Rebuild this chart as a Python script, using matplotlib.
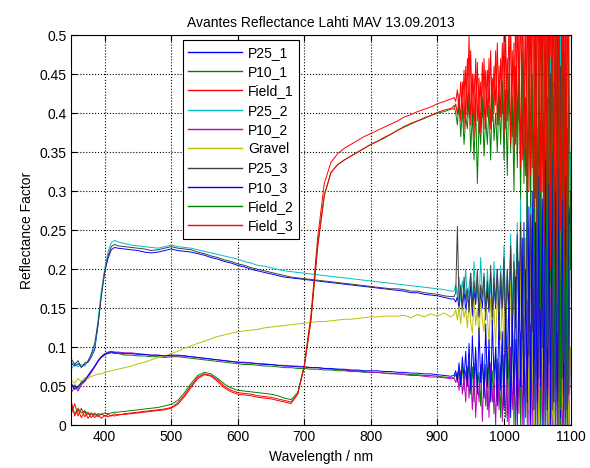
import numpy as np
import matplotlib
matplotlib.use("Agg")
import matplotlib.pyplot as plt

plt.rcParams["font.family"] = ["Liberation Sans", "DejaVu Sans"]

# sampling grid (nm): 5 nm at the start, 10 nm in the middle, 2.5 nm in the noisy tail
wl = np.concatenate([np.arange(350, 421, 5), np.arange(430, 921, 10), np.arange(925, 1100.1, 2.5)])

p25_1 = ([0.080, 0.076, 0.079, 0.075, 0.078, 0.081, 0.088, 0.097, 0.128, 0.168, 0.197, 0.214, 0.225, 0.228, 0.227]
         + [0.226, 0.225, 0.224, 0.222, 0.221, 0.222, 0.224, 0.226, 0.224, 0.223,
            0.222, 0.220, 0.218, 0.215, 0.213, 0.210, 0.208, 0.205, 0.203, 0.200,
            0.198, 0.196, 0.194, 0.192, 0.190, 0.189, 0.188, 0.187, 0.186, 0.185,
            0.184, 0.183, 0.182, 0.181, 0.180, 0.179, 0.178, 0.177, 0.176, 0.175,
            0.174, 0.173, 0.172, 0.170, 0.170, 0.168, 0.167, 0.166, 0.164, 0.162]
         + [0.162, 0.158, 0.165, 0.150, 0.172, 0.148, 0.175, 0.145, 0.168, 0.152,
            0.180, 0.140, 0.172, 0.155, 0.185, 0.138, 0.170, 0.150, 0.190, 0.135,
            0.175, 0.145, 0.195, 0.130, 0.180, 0.150, 0.200, 0.128, 0.185, 0.140,
            0.210, 0.120, 0.190, 0.135, 0.225, 0.110, 0.200, 0.125, 0.240, 0.100,
            0.215, 0.090, 0.260, 0.110, 0.280, 0.070, 0.250, 0.040, 0.300, 0.060,
            0.340, 0.020, 0.280, 0.000, 0.380, 0.050, 0.420, 0.000, 0.360, 0.010,
            0.440, 0.000, 0.400, 0.030, 0.470, 0.000, 0.450, 0.020, 0.380, 0.000,
            0.100])

p10_1 = ([0.048, 0.052, 0.047, 0.054, 0.057, 0.063, 0.069, 0.075, 0.082, 0.087, 0.090, 0.092, 0.093, 0.092, 0.092]
         + [0.090, 0.090, 0.089, 0.089, 0.088, 0.088, 0.087, 0.088, 0.088, 0.087,
            0.086, 0.085, 0.084, 0.083, 0.082, 0.081, 0.080, 0.079, 0.078, 0.078,
            0.077, 0.076, 0.076, 0.075, 0.074, 0.074, 0.073, 0.073, 0.072, 0.072,
            0.071, 0.071, 0.070, 0.070, 0.069, 0.069, 0.068, 0.068, 0.068, 0.067,
            0.067, 0.066, 0.066, 0.065, 0.065, 0.064, 0.064, 0.063, 0.062, 0.061]
         + [0.061, 0.066, 0.055, 0.072, 0.050, 0.078, 0.045, 0.070, 0.052, 0.082,
            0.040, 0.075, 0.030, 0.085, 0.048, 0.068, 0.025, 0.090, 0.040, 0.078,
            0.020, 0.095, 0.035, 0.070, 0.015, 0.100, 0.030, 0.080, 0.010, 0.105,
            0.025, 0.120, 0.005, 0.095, 0.030, 0.140, 0.000, 0.110, 0.020, 0.160,
            0.000, 0.180, 0.040, 0.150, 0.000, 0.220, 0.010, 0.190, 0.000, 0.250,
            0.030, 0.210, 0.000, 0.280, 0.020, 0.240, 0.000, 0.300, 0.010, 0.260,
            0.000, 0.280, 0.030, 0.230, 0.000, 0.270, 0.020, 0.250, 0.000, 0.220,
            0.200])

field_1 = ([0.015, 0.028, 0.012, 0.022, 0.011, 0.017, 0.010, 0.016, 0.011, 0.015, 0.012, 0.014, 0.012, 0.015, 0.013]
           + [0.015, 0.016, 0.017, 0.018, 0.019, 0.020, 0.021, 0.023, 0.029, 0.039,
              0.051, 0.062, 0.066, 0.064, 0.058, 0.050, 0.045, 0.042, 0.041, 0.040,
              0.038, 0.037, 0.036, 0.034, 0.032, 0.030, 0.040, 0.078, 0.142, 0.240,
              0.310, 0.337, 0.348, 0.355, 0.360, 0.365, 0.370, 0.374, 0.378, 0.382,
              0.386, 0.390, 0.395, 0.398, 0.402, 0.405, 0.408, 0.412, 0.415, 0.418]
           + [0.420, 0.415, 0.430, 0.400, 0.440, 0.395, 0.455, 0.390, 0.470, 0.400,
              0.480, 0.385, 0.450, 0.400, 0.465, 0.375, 0.440, 0.395, 0.470, 0.380,
              0.455, 0.400, 0.480, 0.390, 0.460, 0.410, 0.490, 0.385, 0.470, 0.400,
              0.500, 0.380, 0.470, 0.400, 0.520, 0.370, 0.490, 0.360, 0.530, 0.390,
              0.550, 0.340, 0.500, 0.320, 0.560, 0.300, 0.540, 0.330, 0.580, 0.280,
              0.600, 0.260, 0.550, 0.300, 0.600, 0.240, 0.580, 0.220, 0.600, 0.260,
              0.600, 0.200, 0.580, 0.180, 0.600, 0.230, 0.600, 0.170, 0.600, 0.200,
              0.300])

p25_2 = ([0.072, 0.080, 0.075, 0.078, 0.076, 0.083, 0.090, 0.100, 0.135, 0.172, 0.200, 0.222, 0.234, 0.237, 0.235]
         + [0.233, 0.231, 0.230, 0.229, 0.228, 0.227, 0.229, 0.231, 0.229, 0.228,
            0.227, 0.225, 0.223, 0.221, 0.219, 0.217, 0.215, 0.213, 0.210, 0.208,
            0.205, 0.204, 0.202, 0.200, 0.198, 0.197, 0.196, 0.195, 0.194, 0.193,
            0.192, 0.191, 0.190, 0.189, 0.188, 0.187, 0.186, 0.185, 0.184, 0.183,
            0.182, 0.181, 0.180, 0.179, 0.178, 0.177, 0.176, 0.175, 0.174, 0.172]
         + [0.172, 0.180, 0.165, 0.190, 0.160, 0.185, 0.168, 0.200, 0.158, 0.178,
            0.195, 0.155, 0.210, 0.162, 0.188, 0.150, 0.215, 0.165, 0.180, 0.148,
            0.200, 0.160, 0.185, 0.142, 0.210, 0.155, 0.190, 0.145, 0.205, 0.150,
            0.230, 0.140, 0.200, 0.130, 0.245, 0.150, 0.220, 0.125, 0.260, 0.135,
            0.290, 0.110, 0.250, 0.090, 0.330, 0.100, 0.300, 0.060, 0.360, 0.080,
            0.380, 0.030, 0.330, 0.050, 0.420, 0.010, 0.400, 0.040, 0.470, 0.000,
            0.430, 0.020, 0.480, 0.000, 0.500, 0.040, 0.440, 0.000, 0.400, 0.050,
            0.350])

p10_2 = ([0.042, 0.050, 0.044, 0.052, 0.056, 0.062, 0.068, 0.075, 0.082, 0.088, 0.092, 0.094, 0.095, 0.094, 0.094]
         + [0.093, 0.093, 0.092, 0.091, 0.090, 0.090, 0.089, 0.089, 0.089, 0.089,
            0.088, 0.087, 0.086, 0.085, 0.084, 0.083, 0.082, 0.081, 0.081, 0.080,
            0.079, 0.079, 0.078, 0.077, 0.077, 0.076, 0.076, 0.075, 0.074, 0.074,
            0.073, 0.072, 0.072, 0.071, 0.070, 0.070, 0.069, 0.068, 0.068, 0.067,
            0.066, 0.066, 0.065, 0.064, 0.064, 0.063, 0.062, 0.062, 0.061, 0.060]
         + [0.060, 0.055, 0.068, 0.045, 0.070, 0.040, 0.062, 0.030, 0.075, 0.035,
            0.065, 0.020, 0.072, 0.010, 0.060, 0.030, 0.078, 0.005, 0.068, 0.025,
            0.070, 0.010, 0.080, 0.030, 0.060, 0.000, 0.085, 0.020, 0.075, 0.005,
            0.090, 0.010, 0.070, 0.000, 0.100, 0.020, 0.085, 0.000, 0.110, 0.015,
            0.120, 0.000, 0.140, 0.010, 0.160, 0.000, 0.130, 0.000, 0.180, 0.000,
            0.200, 0.000, 0.170, 0.010, 0.220, 0.000, 0.190, 0.000, 0.230, 0.000,
            0.200, 0.000, 0.180, 0.000, 0.210, 0.000, 0.160, 0.000, 0.150, 0.000,
            0.000])

gravel = ([0.058, 0.054, 0.060, 0.056, 0.061, 0.060, 0.063, 0.064, 0.066, 0.066, 0.068, 0.069, 0.070, 0.071, 0.072]
          + [0.074, 0.076, 0.079, 0.081, 0.084, 0.087, 0.089, 0.092, 0.095, 0.099,
             0.102, 0.105, 0.108, 0.111, 0.114, 0.116, 0.118, 0.120, 0.121, 0.122,
             0.123, 0.125, 0.126, 0.127, 0.128, 0.129, 0.130, 0.131, 0.132, 0.133,
             0.133, 0.134, 0.135, 0.136, 0.136, 0.137, 0.138, 0.139, 0.139, 0.140,
             0.140, 0.140, 0.141, 0.138, 0.142, 0.139, 0.143, 0.140, 0.144, 0.139]
          + [0.142, 0.148, 0.135, 0.152, 0.130, 0.156, 0.138, 0.150, 0.125, 0.158,
             0.132, 0.118, 0.160, 0.128, 0.150, 0.112, 0.162, 0.135, 0.120, 0.155,
             0.140, 0.105, 0.165, 0.125, 0.150, 0.100, 0.170, 0.130, 0.110, 0.160,
             0.095, 0.175, 0.120, 0.085, 0.185, 0.140, 0.075, 0.200, 0.110, 0.060,
             0.215, 0.090, 0.040, 0.240, 0.120, 0.020, 0.270, 0.080, 0.000, 0.290,
             0.050, 0.000, 0.310, 0.100, 0.000, 0.330, 0.060, 0.000, 0.300, 0.020,
             0.000, 0.280, 0.080, 0.000, 0.300, 0.040, 0.000, 0.250, 0.060, 0.000,
             0.100])

p25_3 = ([0.085, 0.078, 0.083, 0.074, 0.080, 0.082, 0.092, 0.105, 0.130, 0.165, 0.197, 0.217, 0.229, 0.232, 0.230]
         + [0.229, 0.228, 0.227, 0.226, 0.224, 0.225, 0.227, 0.229, 0.227, 0.226,
            0.225, 0.222, 0.220, 0.217, 0.215, 0.212, 0.210, 0.207, 0.205, 0.202,
            0.200, 0.198, 0.196, 0.194, 0.192, 0.190, 0.189, 0.188, 0.187, 0.186,
            0.185, 0.184, 0.183, 0.182, 0.181, 0.180, 0.179, 0.178, 0.177, 0.176,
            0.175, 0.175, 0.174, 0.172, 0.172, 0.170, 0.169, 0.168, 0.166, 0.165]
         + [0.165, 0.170, 0.255, 0.155, 0.180, 0.150, 0.190, 0.160, 0.175, 0.145,
            0.195, 0.150, 0.185, 0.160, 0.200, 0.140, 0.180, 0.165, 0.195, 0.145,
            0.185, 0.150, 0.205, 0.140, 0.190, 0.155, 0.200, 0.135, 0.195, 0.150,
            0.215, 0.130, 0.200, 0.145, 0.230, 0.125, 0.210, 0.140, 0.245, 0.120,
            0.260, 0.110, 0.240, 0.130, 0.300, 0.090, 0.270, 0.120, 0.340, 0.080,
            0.350, 0.060, 0.300, 0.100, 0.400, 0.030, 0.360, 0.080, 0.450, 0.020,
            0.420, 0.050, 0.500, 0.000, 0.460, 0.060, 0.480, 0.010, 0.380, 0.040,
            0.300])

p10_3 = ([0.054, 0.046, 0.050, 0.055, 0.058, 0.064, 0.070, 0.076, 0.083, 0.088, 0.091, 0.093, 0.094, 0.093, 0.093]
         + [0.092, 0.092, 0.091, 0.091, 0.090, 0.090, 0.089, 0.090, 0.090, 0.089,
            0.088, 0.087, 0.086, 0.085, 0.084, 0.083, 0.082, 0.081, 0.080, 0.080,
            0.079, 0.078, 0.078, 0.077, 0.076, 0.076, 0.075, 0.075, 0.074, 0.074,
            0.073, 0.073, 0.072, 0.072, 0.071, 0.071, 0.070, 0.070, 0.070, 0.069,
            0.069, 0.068, 0.068, 0.067, 0.067, 0.066, 0.066, 0.065, 0.064, 0.063]
         + [0.064, 0.070, 0.058, 0.080, 0.052, 0.088, 0.060, 0.095, 0.050, 0.105,
            0.045, 0.115, 0.060, 0.100, 0.040, 0.125, 0.055, 0.092, 0.035, 0.130,
            0.050, 0.110, 0.030, 0.135, 0.060, 0.100, 0.025, 0.145, 0.045, 0.120,
            0.020, 0.150, 0.060, 0.170, 0.010, 0.140, 0.040, 0.190, 0.000, 0.210,
            0.050, 0.240, 0.000, 0.200, 0.030, 0.280, 0.000, 0.300, 0.020, 0.260,
            0.000, 0.320, 0.050, 0.290, 0.000, 0.340, 0.020, 0.310, 0.000, 0.350,
            0.030, 0.300, 0.000, 0.330, 0.010, 0.290, 0.000, 0.320, 0.020, 0.280,
            0.250])

field_2 = ([0.025, 0.015, 0.022, 0.016, 0.019, 0.014, 0.016, 0.013, 0.015, 0.014, 0.016, 0.015, 0.016, 0.017, 0.017]
           + [0.018, 0.019, 0.020, 0.021, 0.022, 0.023, 0.025, 0.027, 0.032, 0.042,
              0.054, 0.064, 0.068, 0.066, 0.060, 0.053, 0.048, 0.045, 0.044, 0.043,
              0.042, 0.041, 0.040, 0.038, 0.035, 0.033, 0.042, 0.076, 0.136, 0.230,
              0.295, 0.324, 0.334, 0.340, 0.345, 0.350, 0.355, 0.360, 0.364, 0.368,
              0.373, 0.378, 0.382, 0.386, 0.390, 0.393, 0.397, 0.400, 0.402, 0.405]
           + [0.410, 0.400, 0.385, 0.415, 0.370, 0.405, 0.360, 0.395, 0.380, 0.420,
              0.350, 0.400, 0.340, 0.410, 0.310, 0.390, 0.360, 0.420, 0.345, 0.395,
              0.360, 0.410, 0.340, 0.430, 0.365, 0.400, 0.350, 0.425, 0.360, 0.440,
              0.340, 0.430, 0.320, 0.450, 0.350, 0.420, 0.300, 0.460, 0.330, 0.440,
              0.290, 0.480, 0.310, 0.420, 0.260, 0.500, 0.280, 0.450, 0.220, 0.520,
              0.200, 0.480, 0.150, 0.550, 0.250, 0.500, 0.100, 0.560, 0.180, 0.520,
              0.050, 0.540, 0.120, 0.500, 0.020, 0.550, 0.080, 0.480, 0.000, 0.500,
              0.200])

field_3 = ([0.030, 0.012, 0.020, 0.010, 0.018, 0.009, 0.015, 0.010, 0.014, 0.009, 0.013, 0.011, 0.013, 0.012, 0.014]
           + [0.014, 0.015, 0.016, 0.017, 0.018, 0.019, 0.020, 0.022, 0.027, 0.037,
              0.049, 0.060, 0.065, 0.063, 0.056, 0.048, 0.043, 0.040, 0.039, 0.038,
              0.036, 0.035, 0.034, 0.032, 0.030, 0.028, 0.040, 0.075, 0.135, 0.228,
              0.294, 0.324, 0.334, 0.340, 0.345, 0.350, 0.355, 0.360, 0.364, 0.369,
              0.373, 0.378, 0.383, 0.387, 0.390, 0.394, 0.397, 0.401, 0.404, 0.406]
           + [0.405, 0.412, 0.398, 0.425, 0.390, 0.440, 0.380, 0.460, 0.395, 0.500,
              0.385, 0.450, 0.370, 0.470, 0.390, 0.445, 0.375, 0.465, 0.380, 0.455,
              0.395, 0.470, 0.380, 0.445, 0.400, 0.480, 0.385, 0.460, 0.395, 0.490,
              0.370, 0.500, 0.390, 0.520, 0.360, 0.480, 0.350, 0.540, 0.370, 0.510,
              0.330, 0.560, 0.350, 0.520, 0.300, 0.580, 0.320, 0.600, 0.280, 0.560,
              0.250, 0.600, 0.300, 0.600, 0.230, 0.600, 0.270, 0.600, 0.200, 0.600,
              0.220, 0.600, 0.160, 0.600, 0.250, 0.600, 0.180, 0.600, 0.200, 0.600,
              0.550])

labels = ["P25_1", "P10_1", "Field_1", "P25_2", "P10_2", "Gravel", "P25_3", "P10_3", "Field_2", "Field_3"]
series = [p25_1, p10_1, field_1, p25_2, p10_2, gravel, p25_3, p10_3, field_2, field_3]
colors = ["#0000ff", "#008000", "#ff0000", "#00bfbf", "#bf00bf", "#bfbf00", "#404040", "#0000ff", "#008000", "#ff0000"]

xticks = [400, 500, 600, 700, 800, 900, 1000, 1100]
yticks = [0, 0.05, 0.1, 0.15, 0.2, 0.25, 0.3, 0.35, 0.4, 0.45, 0.5]
ytick_labels = ["0", "0.05", "0.1", "0.15", "0.2", "0.25", "0.3", "0.35", "0.4", "0.45", "0.5"]

fig = plt.figure(figsize=(5.9, 4.68), dpi=100)
ax = fig.add_axes([0.121, 0.091, 0.846, 0.834])

for y, lab, c in zip(series, labels, colors):
    ax.plot(wl, y, color=c, lw=0.7, label=lab)

ax.set_xlim(350, 1100)
ax.set_ylim(0, 0.5)
ax.set_xticks(xticks)
ax.set_yticks(yticks)
ax.set_yticklabels(ytick_labels)
ax.tick_params(direction="in", top=True, right=True, labelsize=10, length=4)
ax.grid(True, linestyle=":", color="black", linewidth=0.8)
for s in ax.spines.values():
    s.set_linewidth(0.8)

ax.set_title("Avantes Reflectance Lahti MAV 13.09.2013", fontsize=10)
ax.set_xlabel("Wavelength / nm", fontsize=10)
ax.set_ylabel("Reflectance Factor", fontsize=10)

leg = ax.legend(loc="upper left", bbox_to_anchor=(0.223, 0.987), borderaxespad=0,
                fontsize=10, handlelength=3.9, handletextpad=0.4, labelspacing=0.38,
                fancybox=False, framealpha=1, edgecolor="black")
leg.get_frame().set_linewidth(0.8)
for line in leg.get_lines():
    line.set_linewidth(1.0)

fig.savefig("out.png", dpi=100)
